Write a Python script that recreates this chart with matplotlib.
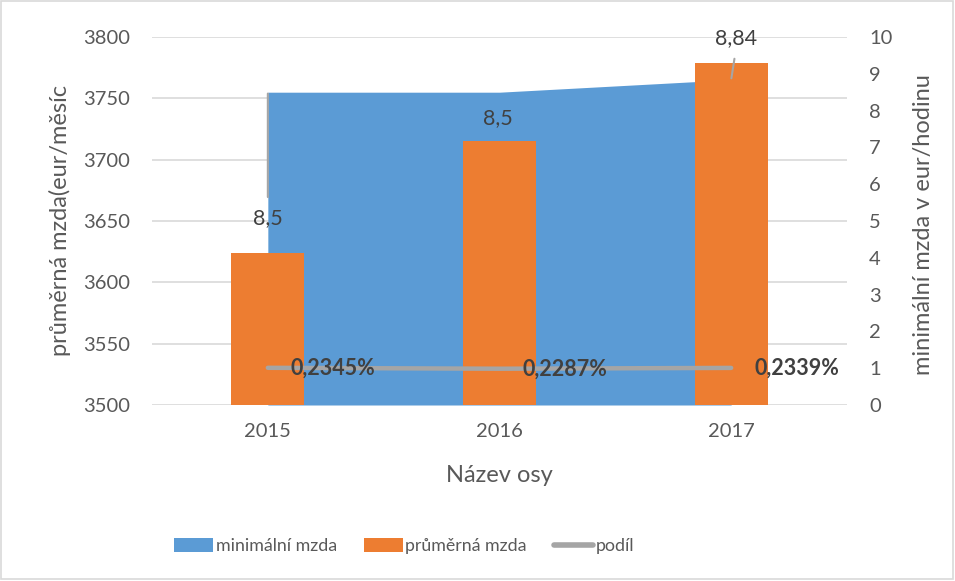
import matplotlib
matplotlib.use("Agg")
import matplotlib.pyplot as plt
from matplotlib.patches import Rectangle, Patch
from matplotlib.lines import Line2D

years = ["2015", "2016", "2017"]
minimalni_mzda = [8.5, 8.5, 8.84]          # right axis (eur/hodinu)
prumerna_mzda = [3624, 3715, 3779]         # left axis (eur/měsíc)
podil = [0.2345, 0.2287, 0.2339]           # share, shown as label
podil_labels = ["0,2345%", "0,2287%", "0,2339%"]
min_labels = ["8,5", "8,5", "8,84"]

BLUE = "#5B9BD5"
ORANGE = "#ED7D31"
GREY = "#A5A5A5"
TXT = "#595959"
LBL = "#404040"

plt.rcParams['font.family'] = ['Lato', 'DejaVu Sans']

fig = plt.figure(figsize=(9.55, 5.81), dpi=100)
ax = fig.add_axes([152/955, 1-405/581, 695/955, 368/581])
axr = ax.twinx()
ax3 = ax.twinx()

x = list(range(len(years)))
ax.set_xlim(-0.5, 2.5)
ax.set_ylim(3500, 3800)
ax.set_yticks(range(3500, 3801, 50))
axr.set_ylim(0, 10)
axr.set_yticks(range(0, 11))
ax3.set_ylim(0, 2.32)
ax3.set_yticks([])

for a in (ax, axr, ax3):
    for s in a.spines.values():
        s.set_visible(False)
ax.patch.set_visible(False)

ax.grid(axis='y', color='#d9d9d9', linewidth=1.2, zorder=0)
ax.set_axisbelow(True)

# area (right-axis data), drawn inside ax so bars sit on top
ax.fill_between(x, 0, minimalni_mzda, transform=axr.transData,
                color=BLUE, linewidth=0, zorder=1)
# bars
ax.bar(x, prumerna_mzda, width=0.315, color=ORANGE, zorder=2)

# podíl line
ax3.plot(x, podil, color=GREY, linewidth=3.2, solid_capstyle='round', zorder=3)
for xi, v, t in zip(x, podil, podil_labels):
    ax3.annotate(t, (xi, v), xytext=(16.5, 0), textcoords='offset points',
                 ha='left', va='center', fontsize=15.5, fontweight='bold',
                 color=LBL)

# data labels of minimální mzda
offsets = [(0, -90.7), (-1.4, -18.7), (3.6, 30.2)]
relpos = [(0.5, 1.0), (0.5, 1.0), (0.5, 0.0)]
arrows = [True, False, True]
for xi, v, t, off, rp, ar in zip(x, minimalni_mzda, min_labels, offsets, relpos, arrows):
    kw = {}
    if ar:
        kw['arrowprops'] = dict(arrowstyle='-', color=GREY, linewidth=1.5,
                                shrinkA=6, shrinkB=1, relpos=rp)
    ax.annotate(t, (xi, v), xycoords=axr.transData, xytext=off,
                textcoords='offset points', ha='center', va='center',
                fontsize=15.5, color=LBL, zorder=4, **kw)

ax.set_xticks(x)
ax.set_xticklabels(years)
ax.tick_params(axis='x', length=0, pad=13, labelsize=14.5, labelcolor=TXT)
ax.tick_params(axis='y', length=0, pad=16, labelsize=14.5, labelcolor=TXT)
axr.tick_params(axis='y', length=0, pad=16, labelsize=14.5, labelcolor=TXT)

fig.text(60/955, 1-220/581, "průměrná mzda(eur/měsíc", rotation=90,
         ha='center', va='center', fontsize=17, color=TXT)
fig.text(923/955, 1-225/581, "minimální mzda v eur/hodinu", rotation=90,
         ha='center', va='center', fontsize=17, color=TXT)
fig.text(499/955, 1-475/581, "Název osy", ha='center', va='center',
         fontsize=17, color=TXT)

handles = [Patch(facecolor=BLUE, edgecolor='none'),
           Patch(facecolor=ORANGE, edgecolor='none'),
           Line2D([0], [0], color=GREY, linewidth=4, solid_capstyle='round')]
leg = fig.legend(handles, ["minimální mzda", "průměrná mzda", "podíl"],
                 loc='center', bbox_to_anchor=(404/955, 1-546/581), ncol=3,
                 frameon=False, fontsize=12.8, handlelength=2.2,
                 handleheight=0.85, handletextpad=0.15, columnspacing=1.5)
for t in leg.get_texts():
    t.set_color(TXT)

fig.add_artist(Rectangle((0.001, 0.004), 0.997, 0.994, transform=fig.transFigure,
                         fill=False, edgecolor='#d9d9d9', linewidth=1.2))

fig.savefig("out.png", dpi=100)
